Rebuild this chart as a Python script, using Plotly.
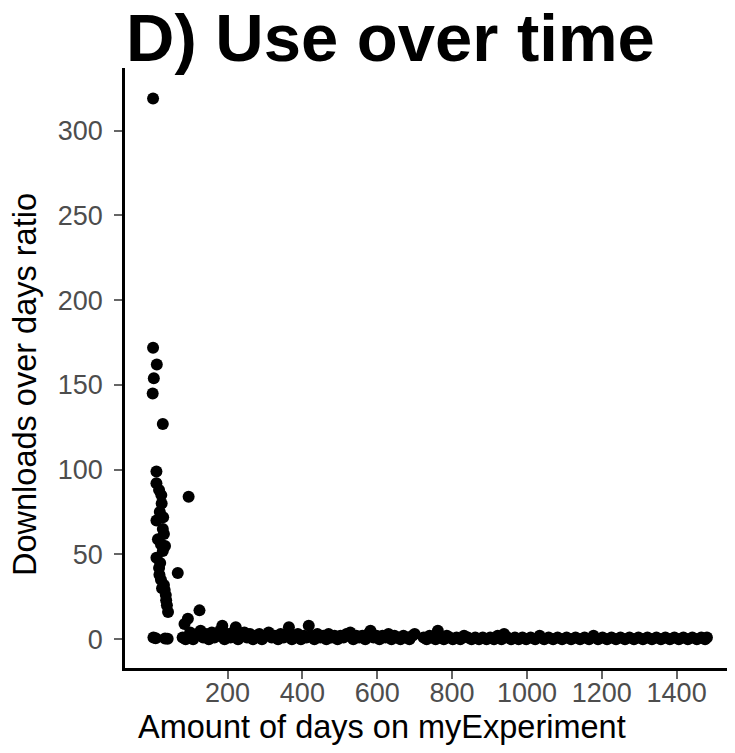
import plotly.graph_objects as go

# Early, high-ratio workflows (days on site, downloads/day)
spike_days = [1, 1, 11, 3, 0, 27, 10, 10, 17, 23, 96, 19, 10, 27, 30, 14, 22, 27, 10, 20,
              17, 67, 22, 30, 32, 35, 36, 38, 41, 125, 94, 85, 2, 8, 33, 40, 24, 28, 33, 18, 25]
spike_ratio = [319, 172, 162, 154, 145, 127, 99, 92, 88, 85, 84, 75, 70, 65, 62, 59, 56, 52, 48, 45,
               42, 39, 35, 32, 29, 26, 23, 20, 16, 17, 12, 9, 1, 0.5, 0.4, 0.2, 80, 72, 55, 38, 30]

# Long tail, low-ratio workflows before the gap near day 710
band1_days = [80, 88, 100, 108, 115, 128, 135, 142, 150, 158, 165, 172, 180, 186, 192, 200, 208, 215,
              222, 228, 236, 245, 252, 260, 268, 276, 285, 292, 300, 310, 318, 326, 335, 342, 350, 358,
              364, 372, 380, 388, 396, 404, 411, 417, 424, 432, 440, 448, 456, 464, 470, 478, 486, 494,
              502, 510, 518, 528, 536, 544, 552, 560, 568, 576, 582, 590, 598, 606, 614, 622, 630, 638,
              646, 654, 662, 670, 678, 686, 694, 700]
band1_ratio = [1, 0, 4, 0, 2, 5, 1, 3, 0, 4, 1, 2, 5, 8, 0, 3, 1, 4,
               7, 0, 2, 4, 1, 3, 0, 2, 3, 0, 2, 4, 1, 2, 0, 3, 1, 2,
               7, 0, 2, 3, 0, 2, 1, 8, 2, 0, 3, 1, 2, 0, 3, 1, 2, 0,
               2, 1, 3, 4, 0, 2, 1, 2, 0, 3, 5, 1, 2, 0, 2, 1, 3, 0,
               2, 1, 0, 2, 1, 0, 2, 3]

# Long tail after the gap
band2_days = [724, 732, 740, 748, 756, 762, 770, 778, 786, 794, 802, 812, 822, 832, 842, 852, 862, 872,
              882, 892, 902, 912, 922, 932, 939, 948, 958, 968, 978, 988, 998, 1010, 1022, 1034, 1046,
              1058, 1070, 1082, 1094, 1106, 1118, 1130, 1142, 1154, 1166, 1178, 1190, 1202, 1214, 1226,
              1238, 1250, 1262, 1274, 1286, 1298, 1310, 1322, 1334, 1346, 1358, 1370, 1382, 1394, 1406,
              1418, 1430, 1442, 1454, 1466, 1476, 1481]
band2_ratio = [1, 0, 2, 1, 0, 5, 1, 0, 2, 1, 0, 1, 0, 2, 1, 0, 1, 0,
               1, 0, 1, 0, 2, 0, 3, 1, 0, 1, 0, 1, 0, 1, 0, 2, 0,
               1, 0, 1, 0, 1, 0, 1, 0, 1, 0, 2, 0, 1, 0, 1,
               0, 1, 0, 1, 0, 1, 0, 1, 0, 1, 0, 1, 0, 1, 0,
               1, 0, 1, 0, 1, 0, 1]

x_ticks = [200, 400, 600, 800, 1000, 1200, 1400]
y_ticks = [0, 50, 100, 150, 200, 250, 300]

days = spike_days + band1_days + band2_days
ratio = spike_ratio + band1_ratio + band2_ratio

FONT = "Liberation Sans"
# page body has an 8px margin; figure coordinates = page coordinates - 8
W, H = 727, 745
L, R, T, B = 117, 0, 60, 85
PW, PH = W - L - R, H - T - B

fig = go.Figure(go.Scatter(
    x=days, y=ratio, mode="markers",
    marker=dict(color="black", size=12, line=dict(width=0)),
    showlegend=False, hoverinfo="skip",
))

fig.update_layout(
    width=W, height=H,
    margin=dict(l=L, r=R, t=T, b=B, autoexpand=False),
    paper_bgcolor="white", plot_bgcolor="white",
    font=dict(family=FONT, color="black"),
    title=dict(
        text="<b>D) Use over time</b>",
        font=dict(family=FONT, size=67, color="black"),
        x=118 / W, xref="container", xanchor="left",
        y=1 - 29.5 / H, yref="container", yanchor="middle",
    ),
    annotations=[
        dict(text="Amount of days on myExperiment", xref="paper", yref="paper",
             x=(374 - L) / PW, y=(H - B - 719) / PH,
             xanchor="center", yanchor="middle", showarrow=False,
             font=dict(family=FONT, size=32.5, color="black")),
        dict(text="Downloads over days ratio", xref="paper", yref="paper",
             x=(17 - L) / PW, y=(H - B - 377) / PH,
             xanchor="center", yanchor="middle", showarrow=False, textangle=-90,
             font=dict(family=FONT, size=32.5, color="black")),
    ],
)

fig.update_xaxes(
    range=[-74, 1556], tickvals=x_ticks, ticktext=[str(v) for v in x_ticks],
    showgrid=False, zeroline=False, automargin=False,
    showline=True, linecolor="black", linewidth=2.5,
    ticks="outside", ticklen=8, tickwidth=2, tickcolor="#666666",
    ticklabelstandoff=-9,
    tickfont=dict(family=FONT, size=27, color="#4d4d4d"),
)
fig.update_yaxes(
    range=[-17, 337], tickvals=y_ticks, ticktext=[str(v) for v in y_ticks],
    showgrid=False, zeroline=False, automargin=False,
    showline=True, linecolor="black", linewidth=2.5,
    ticks="outside", ticklen=8, tickwidth=2, tickcolor="#666666",
    ticklabelstandoff=6,
    tickfont=dict(family=FONT, size=27, color="#4d4d4d"),
)

fig.write_html("out.html")
